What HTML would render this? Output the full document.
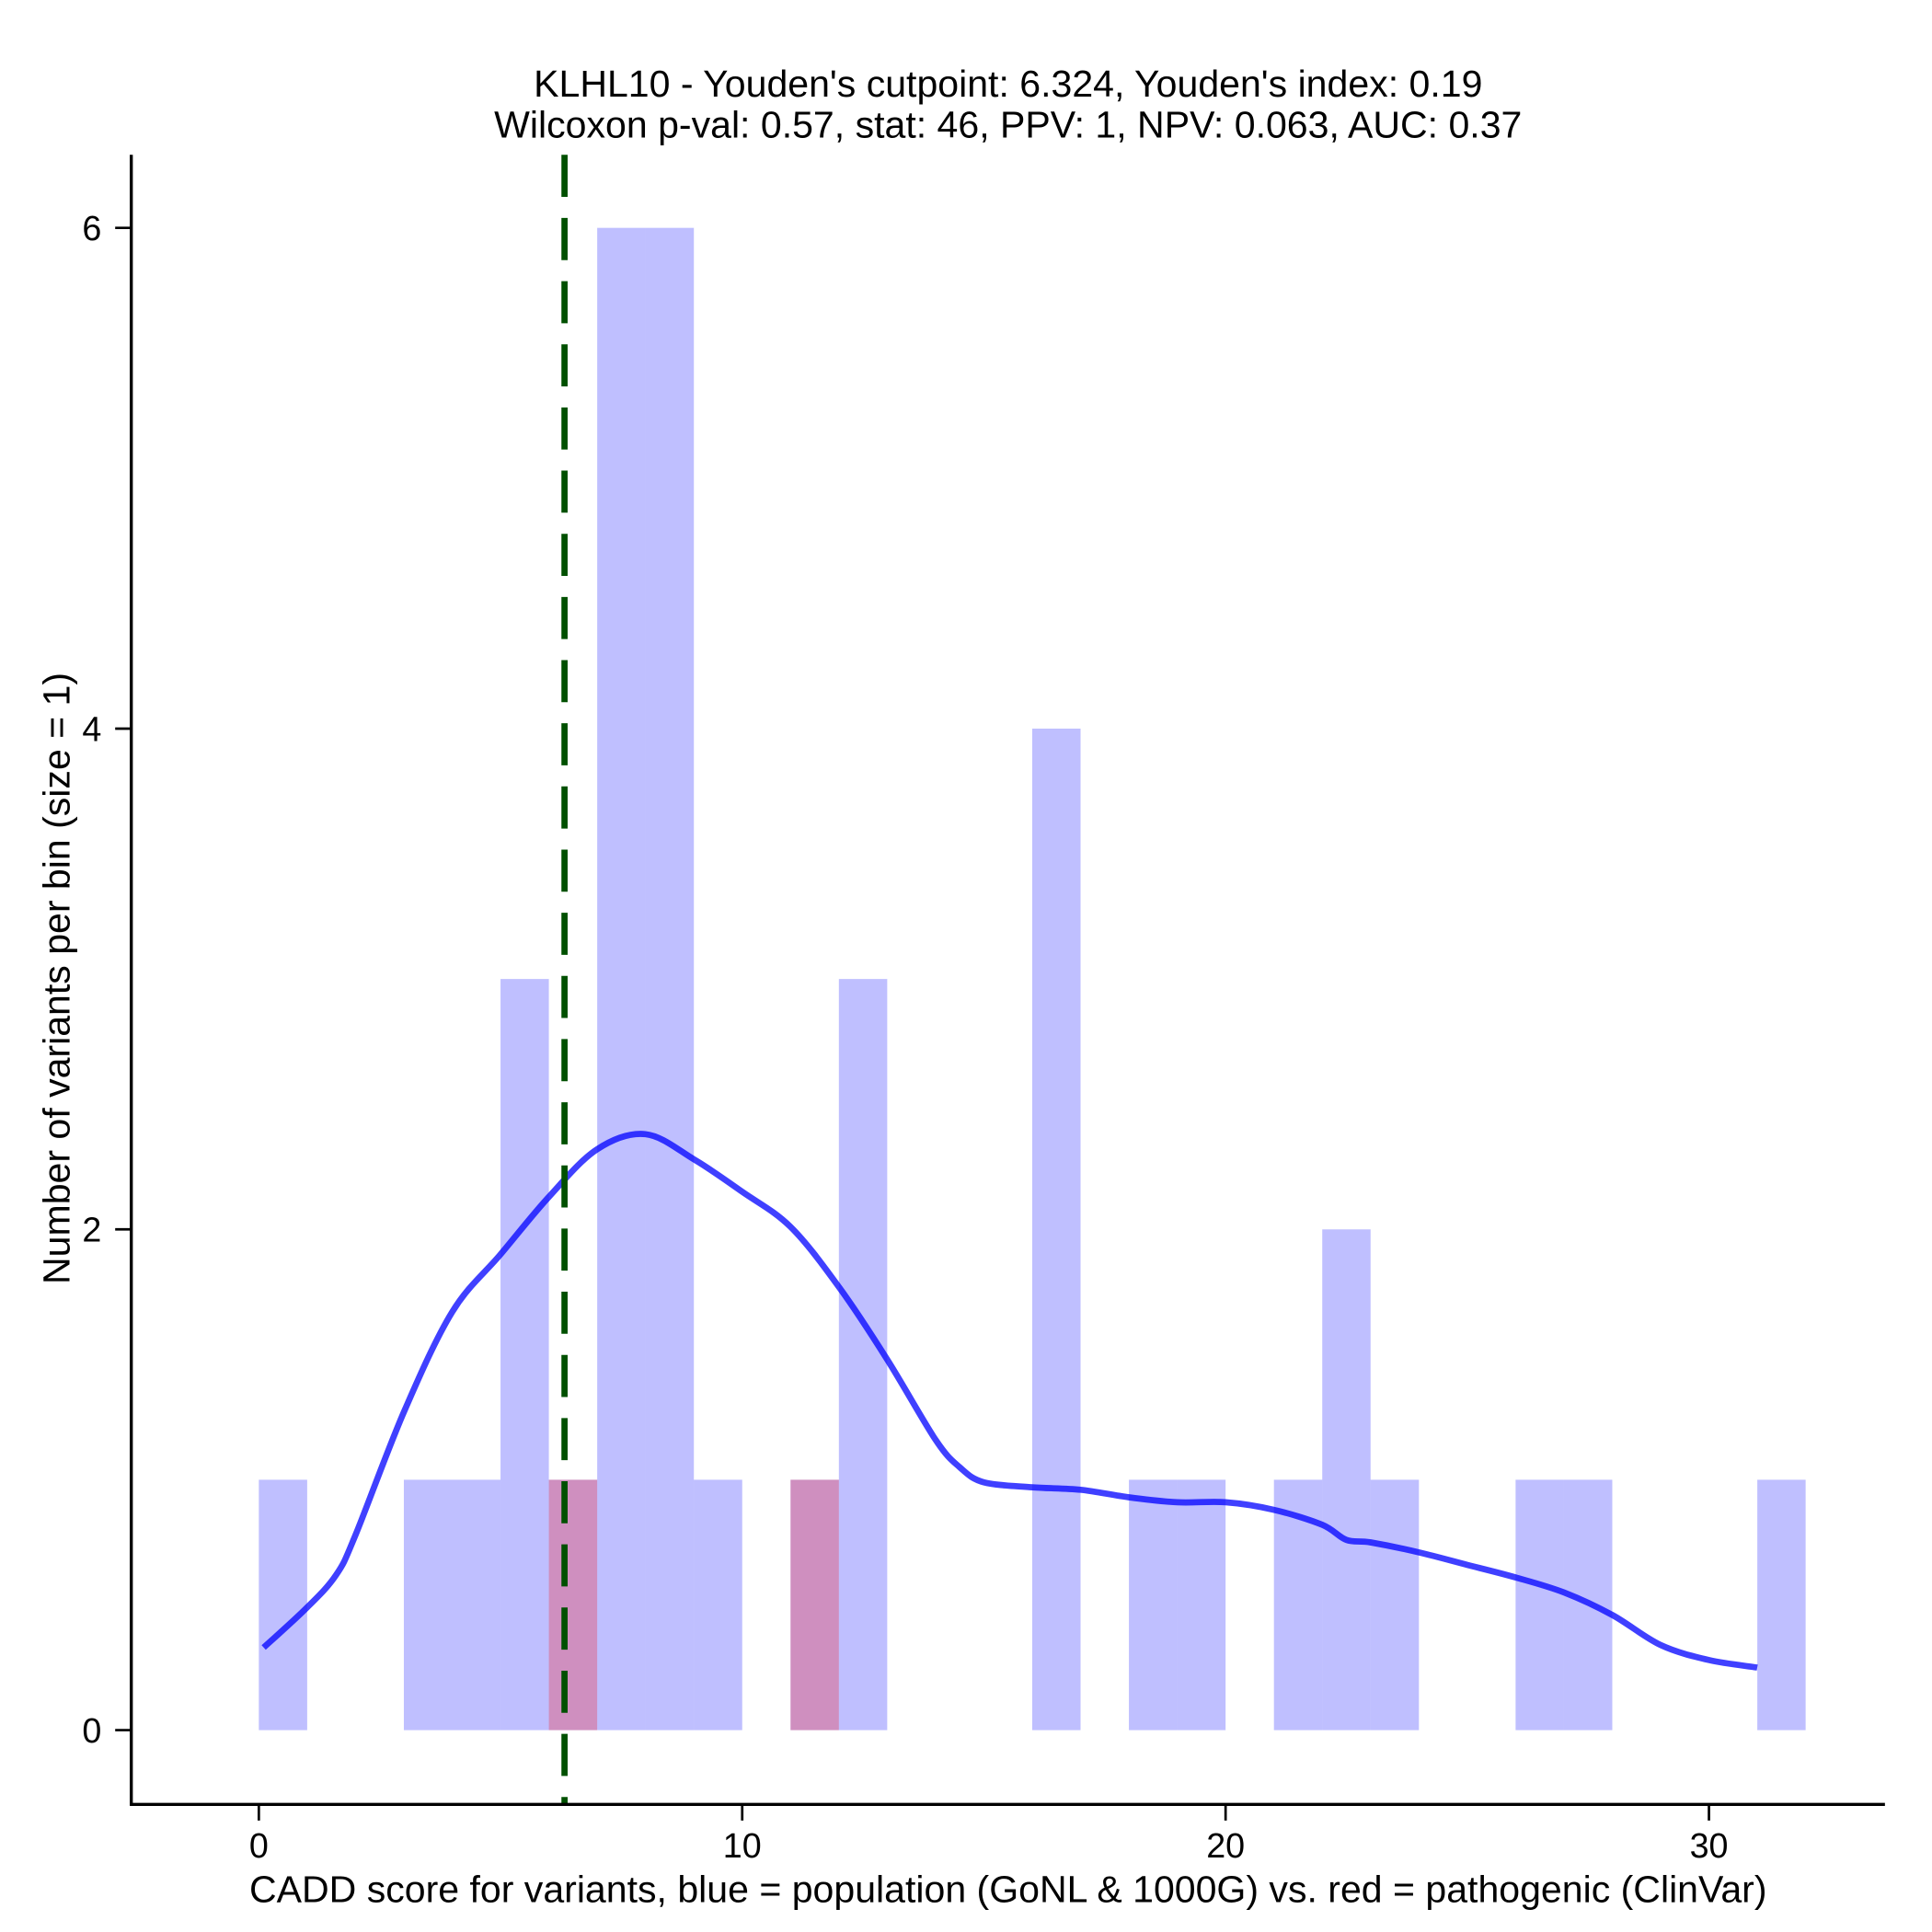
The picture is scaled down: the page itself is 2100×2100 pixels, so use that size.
<!DOCTYPE html>
<html><head><meta charset="utf-8"><style>html,body{margin:0;padding:0;background:#fff}svg{display:block}</style></head>
<body>
<svg id="chart" width="2100" height="2100" viewBox="0 0 1560 1560" xmlns="http://www.w3.org/2000/svg" font-family="Liberation Sans, sans-serif">
<rect width="1560" height="1560" fill="#fff"/>
<text x="814" y="78" font-size="30.5" text-anchor="middle">KLHL10 - Youden's cutpoint: 6.324, Youden's index: 0.19</text>
<text x="814" y="111" font-size="30.5" text-anchor="middle">Wilcoxon p-val: 0.57, stat: 46, PPV: 1, NPV: 0.063, AUC: 0.37</text>
<g id="bars"></g>
<g id="curve"></g>
<g id="axes"></g>
<text x="814" y="1536" font-size="30.5" text-anchor="middle">CADD score for variants, blue = population (GoNL &amp; 1000G) vs. red = pathogenic (ClinVar)</text>
<text transform="translate(56,790) rotate(-90)" font-size="30.5" text-anchor="middle">Number of variants per bin (size = 1)</text>
</svg>
<script>
const binStarts = [0,1,2,3,4,5,6,7,8,9,10,11,12,13,14,15,16,17,18,19,20,21,22,23,24,25,26,27,28,29,30,31];
const blueCounts = [1,0,0,1,1,3,1,6,6,1,0,1,3,0,0,0,4,0,1,1,0,1,2,1,0,0,1,1,0,0,0,1];
const redCounts  = [0,0,0,0,0,0,1,0,0,0,0,1,0,0,0,0,0,0,0,0,0,0,0,0,0,0,0,0,0,0,0,0];
const densX = [0.1,1,1.6,2,3,4,5,6,7,8,9,10,11,12,13,14,14.5,15,16,17,18,19,20,21,22,22.5,23,24,25,26,27,28,29,30,31];
const densY = [0.33,0.49,0.62,0.78,1.27,1.67,1.90,2.13,2.32,2.38,2.28,2.15,2.01,1.77,1.48,1.16,1.05,0.99,0.97,0.96,0.93,0.91,0.91,0.88,0.82,0.76,0.75,0.71,0.66,0.61,0.55,0.46,0.34,0.28,0.25];
const cutpoint = 6.324;
const xTicks = [0,10,20,30];
const yTicks = [0,2,4,6];

const NS='http://www.w3.org/2000/svg';
const sx = v => 209 + v*39.03;
const sy = v => 1397 - v*202.17;
function mk(tag, parent, attrs){const e=document.createElementNS(NS,tag);for(const k in attrs)e.setAttribute(k,attrs[k]);parent.appendChild(e);return e;}
const bars=document.getElementById('bars'), curve=document.getElementById('curve'), axes=document.getElementById('axes');

binStarts.forEach((b,i)=>{
  if(blueCounts[i]>0){
    const r=mk('rect',bars,{x:sx(b),y:sy(blueCounts[i]),width:sx(b+1)-sx(b),height:sy(0)-sy(blueCounts[i]),fill:'rgb(0,0,255)','fill-opacity':0.25});
    
    
  }
});
binStarts.forEach((b,i)=>{
  if(redCounts[i]>0){
    const r=mk('rect',bars,{x:sx(b),y:sy(redCounts[i]),width:sx(b+1)-sx(b),height:sy(0)-sy(redCounts[i]),fill:'rgb(255,0,0)','fill-opacity':0.25});
    
    
  }
});
// smooth Catmull-Rom path
const pts = densX.map((x,i)=>[sx(x), sy(densY[i])]);
let d='M'+pts[0][0].toFixed(1)+','+pts[0][1].toFixed(1);
for(let i=0;i<pts.length-1;i++){
  const p0=pts[Math.max(0,i-1)], p1=pts[i], p2=pts[i+1], p3=pts[Math.min(pts.length-1,i+2)];
  const c1=[p1[0]+(p2[0]-p0[0])/6, p1[1]+(p2[1]-p0[1])/6];
  const c2=[p2[0]-(p3[0]-p1[0])/6, p2[1]-(p3[1]-p1[1])/6];
  d+='C'+c1[0].toFixed(1)+','+c1[1].toFixed(1)+' '+c2[0].toFixed(1)+','+c2[1].toFixed(1)+' '+p2[0].toFixed(1)+','+p2[1].toFixed(1);
}
const p=mk('path',curve,{d:d,fill:'none',stroke:'rgb(0,0,255)','stroke-opacity':0.75,'stroke-width':5,'stroke-linejoin':'round'});



const cl=mk('line',curve,{x1:sx(cutpoint),x2:sx(cutpoint),y1:125,y2:1457,stroke:'#005000','stroke-width':5,'stroke-dasharray':'34,17'});



const ya=mk('line',axes,{x1:106,x2:106,y1:125,y2:1458,stroke:'#000','stroke-width':2.5});


const xa=mk('line',axes,{x1:105,x2:1522,y1:1457,y2:1457,stroke:'#000','stroke-width':2.5});


xTicks.forEach(t=>{
  const l=mk('line',axes,{x1:sx(t),x2:sx(t),y1:1457,y2:1470,stroke:'#000','stroke-width':2});
  
  
  const tx=mk('text',axes,{x:sx(t),y:1500,'font-size':28,'text-anchor':'middle'});
  tx.textContent=t;
  
  
});
yTicks.forEach(t=>{
  const l=mk('line',axes,{x1:93,x2:106,y1:sy(t),y2:sy(t),stroke:'#000','stroke-width':2});
  
  
  const tx=mk('text',axes,{x:82,y:sy(t)+10,'font-size':28,'text-anchor':'end'});
  tx.textContent=t;
  
  
});
</script>
</body></html>
